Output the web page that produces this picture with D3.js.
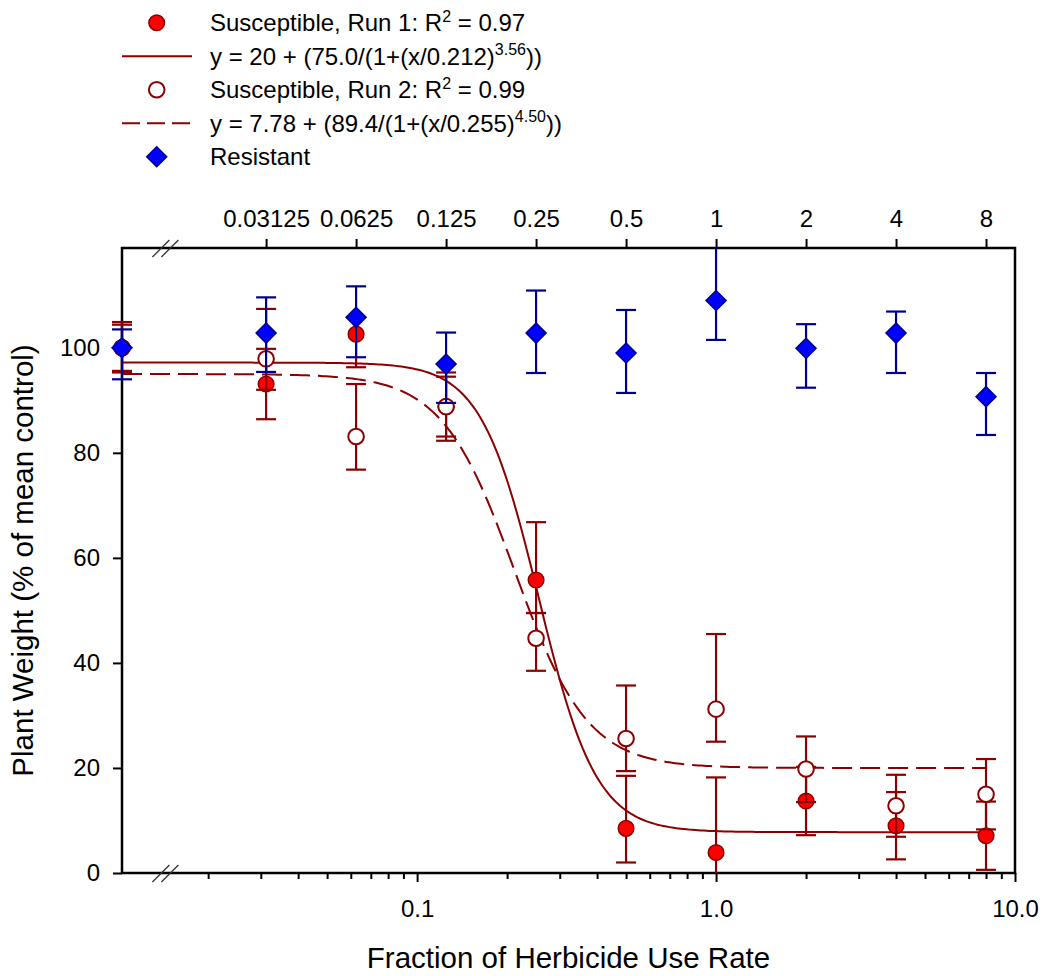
<!DOCTYPE html>
<html>
<head>
<meta charset="utf-8">
<script src="https://cdn.jsdelivr.net/npm/d3@7"></script>
<style>
    body { margin: 0; background: #fff; }
    svg text { font-family: "Liberation Sans", Arial, sans-serif; fill: #000; }
</style>
</head>
<body>
<svg id="chart" width="1044" height="976"></svg>
<script>
// dose levels, fraction of use rate. first one is the untreated control, sits on the axis break
const rates = [0.0103, 0.03125, 0.0625, 0.125, 0.25, 0.5, 1, 2, 4, 8];
const topLabels = ["0.03125", "0.0625", "0.125", "0.25", "0.5", "1", "2", "4", "8"];
const bottomMajor = [0.1, 1, 10];
const bottomLabels = ["0.1", "1.0", "10.0"];
const yTicks = [0, 20, 40, 60, 80, 100];

// susceptible run 1 (filled circles)
const run1Mean = [100, 93.1, 102.6, 88.8, 55.8, 8.5, 3.9, 13.7, 9.0, 7.1];
const run1Lo   = [95.3, 86.4, 96.3, 82.3, 49.5, 2.0, -10.4, 7.2, 2.6, 0.6];
const run1Hi   = [104.9, 99.8, 105.8, 95.3, 66.8, 18.5, 18.2, 20.2, 15.4, 13.6];
// susceptible run 2 (open circles)
const run2Mean = [100, 97.9, 83.1, 88.8, 44.7, 25.6, 31.2, 19.8, 12.8, 15.0];
const run2Lo   = [95.6, 92.0, 76.8, 83.1, 38.5, 19.4, 25.0, 13.5, 6.9, 8.3];
const run2Hi   = [104.4, 107.4, 93.1, 94.5, 49.5, 35.7, 45.5, 26.0, 18.7, 21.7];
// resistant (diamonds)
const resMean = [100, 102.8, 105.8, 96.9, 102.8, 99.0, 109.0, 99.9, 102.8, 90.7];
const resLo   = [94.0, 95.4, 98.2, 89.5, 95.2, 91.4, 101.5, 92.4, 95.2, 83.4];
const resHi   = [103.5, 109.6, 111.7, 102.9, 110.9, 107.2, 121, 104.5, 106.9, 95.2];

// fitted log-logistic curves: [bottom, span, x50, slope]
const fitSolid  = [7.78, 89.4, 0.255, 4.50];
const fitDashed = [20, 75.0, 0.212, 3.56];

const xMin = 0.0103, xMax = 10, breakAt = 0.0145;

const darkRed = "#8b0000", red = "#ff0000", navy = "#000090", blue = "#0000ff";

let svg = d3.select("#chart");
let x = d3.scaleLog().domain([xMin, xMax]).range([122, 1015]);
let y = d3.scaleLinear().domain([0, 119]).range([873, 248]);

svg.append("defs").append("clipPath").attr("id", "clip")
    .append("rect").attr("x", 0).attr("y", y(119)).attr("width", x(xMax)).attr("height", y(0) - y(119));

// ---- axes ----
let minor = [];
[0.01, 0.1, 1].forEach(d => { for (let k = 2; k <= 9; k++) if (d * k > xMin) minor.push(d * k); });

let gMinor = svg.append("g").attr("transform", "translate(0," + y(0) + ")")
    .call(d3.axisBottom(x).tickValues(minor).tickSize(6).tickFormat(""));
let gBottom = svg.append("g").attr("transform", "translate(0," + y(0) + ")")
    .call(d3.axisBottom(x).tickValues(bottomMajor).tickSize(9).tickPadding(18)
        .tickFormat((d, i) => bottomLabels[i]));
let gTop = svg.append("g").attr("transform", "translate(0," + y(119) + ")")
    .call(d3.axisTop(x).tickValues(rates.slice(1)).tickSize(9).tickPadding(12)
        .tickFormat((d, i) => topLabels[i]));
let gLeft = svg.append("g").attr("transform", "translate(" + x(xMin) + ",0)")
    .call(d3.axisLeft(y).tickValues(yTicks).tickSize(9).tickPadding(13));

[gMinor, gBottom, gTop, gLeft].forEach(g => {
    g.select(".domain").remove();
    g.selectAll("line").attr("stroke", "#000").attr("stroke-width", 2);
    g.selectAll("text").style("font-size", "24px").attr("fill", "#000");
});

// frame
svg.append("rect")
    .attr("x", x(xMin)).attr("y", y(119))
    .attr("width", x(xMax) - x(xMin)).attr("height", y(0) - y(119))
    .attr("fill", "none").attr("stroke", "#000").attr("stroke-width", 2.5);

// axis break marks
[y(0), y(119)].forEach(yy => {
    [0, 9].forEach(off => {
        svg.append("line")
            .attr("x1", x(breakAt) - 14 + off).attr("y1", yy + 9)
            .attr("x2", x(breakAt) + 3 + off).attr("y2", yy - 8)
            .attr("stroke", "#333").attr("stroke-width", 1.3);
    });
});

// axis titles
svg.append("text")
    .attr("x", (x(xMin) + x(xMax)) / 2).attr("y", 968)
    .attr("text-anchor", "middle").style("font-size", "29.5px")
    .text("Fraction of Herbicide Use Rate");
svg.append("text")
    .attr("transform", "translate(33," + (y(0) + y(119)) / 2 + ") rotate(-90)")
    .attr("text-anchor", "middle").style("font-size", "29.5px")
    .text("Plant Weight (% of mean control)");

// ---- fitted curves ----
function fitLine(p) {
    let xs = d3.range(0, 301).map(i => xMin * Math.pow(8 / xMin, i / 300));
    return xs.map(v => [v, p[0] + p[1] / (1 + Math.pow(v / p[2], p[3]))]);
}
let line = d3.line().x(d => x(d[0])).y(d => y(d[1]));
svg.append("path").attr("d", line(fitLine(fitSolid)))
    .attr("fill", "none").attr("stroke", darkRed).attr("stroke-width", 2);
svg.append("path").attr("d", line(fitLine(fitDashed)))
    .attr("fill", "none").attr("stroke", darkRed).attr("stroke-width", 2)
    .attr("stroke-dasharray", "20,8");

// ---- data ----
const diamond = d3.symbol(d3.symbolSquare, 200);

function errorBars(mean, lo, hi, color) {
    let g = svg.append("g").attr("clip-path", "url(#clip)")
        .attr("stroke", color).attr("stroke-width", 2.2);
    let rows = rates.map((r, i) => ({r: r, lo: lo[i], hi: hi[i]}));
    g.selectAll(".stem").data(rows).enter().append("line")
        .attr("x1", d => x(d.r)).attr("x2", d => x(d.r))
        .attr("y1", d => y(d.lo)).attr("y2", d => y(d.hi));
    g.selectAll(".capLo").data(rows).enter().append("line")
        .attr("x1", d => x(d.r) - 10).attr("x2", d => x(d.r) + 10)
        .attr("y1", d => y(d.lo)).attr("y2", d => y(d.lo));
    g.selectAll(".capHi").data(rows).enter().append("line")
        .attr("x1", d => x(d.r) - 10).attr("x2", d => x(d.r) + 10)
        .attr("y1", d => y(d.hi)).attr("y2", d => y(d.hi));
}

function circles(mean, fill, strokeW) {
    svg.append("g").selectAll("circle").data(mean).enter().append("circle")
        .attr("cx", (d, i) => x(rates[i])).attr("cy", d => y(d)).attr("r", 7.8)
        .attr("fill", fill).attr("stroke", darkRed).attr("stroke-width", strokeW);
}

errorBars(run1Mean, run1Lo, run1Hi, darkRed);
circles(run1Mean, red, 1.5);
errorBars(run2Mean, run2Lo, run2Hi, darkRed);
circles(run2Mean, "#fff", 2);
errorBars(resMean, resLo, resHi, navy);
svg.append("g").selectAll("path").data(resMean).enter().append("path")
    .attr("d", diamond)
    .attr("transform", (d, i) => "translate(" + x(rates[i]) + "," + y(d) + ") rotate(45)")
    .attr("fill", blue).attr("stroke", navy).attr("stroke-width", 1.5);

// ---- legend ----
const legendRows = [
    {mark: "filled", parts: [["Susceptible, Run 1: R"], ["2", "sup"], [" = 0.97"]]},
    {mark: "solid",  parts: [["y = 20 + (75.0/(1+(x/0.212)"], ["3.56", "exp"], ["))"]]},
    {mark: "open",   parts: [["Susceptible, Run 2: R"], ["2", "sup"], [" = 0.99"]]},
    {mark: "dashed", parts: [["y = 7.78 + (89.4/(1+(x/0.255)"], ["4.50", "exp"], ["))"]]},
    {mark: "diamond", parts: [["Resistant"]]}
];
let legend = svg.append("g");
legendRows.forEach((row, i) => {
    let base = 31 + 33.5 * i, my = base - 8.3, mx = 156.7;
    if (row.mark === "filled" || row.mark === "open") {
        legend.append("circle").attr("cx", mx).attr("cy", my).attr("r", 7.8)
            .attr("fill", row.mark === "filled" ? red : "#fff")
            .attr("stroke", darkRed).attr("stroke-width", row.mark === "filled" ? 1.5 : 2);
    } else if (row.mark === "diamond") {
        legend.append("path").attr("d", diamond)
            .attr("transform", "translate(" + mx + "," + my + ") rotate(45)")
            .attr("fill", blue).attr("stroke", navy).attr("stroke-width", 1.5);
    } else {
        legend.append("line").attr("x1", 122).attr("x2", 192).attr("y1", my).attr("y2", my)
            .attr("stroke", darkRed).attr("stroke-width", 2)
            .attr("stroke-dasharray", row.mark === "dashed" ? "18,7" : null);
    }
    let t = legend.append("text").attr("x", 210).attr("y", base).style("font-size", "24px");
    let shift = 0;
    row.parts.forEach(p => {
        let ts = t.append("tspan").text(p[0]);
        if (p[1] === "sup" || p[1] === "exp") {
            let up = p[1] === "sup" ? -9 : -10;
            ts.style("font-size", "16px").attr("dy", up - shift);
            shift = up;
        } else if (shift !== 0) {
            ts.attr("dy", -shift);
            shift = 0;
        }
    });
});
</script>
</body>
</html>
